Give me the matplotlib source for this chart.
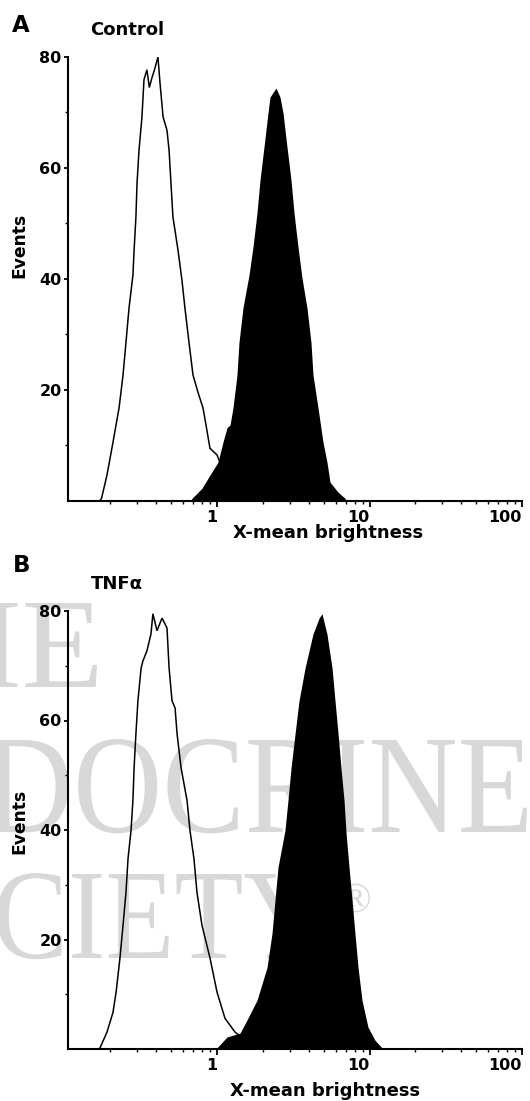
import numpy as np
import matplotlib
matplotlib.use('Agg')
import matplotlib.pyplot as plt
from matplotlib.ticker import FixedLocator, NullFormatter
from matplotlib.textpath import TextPath
from matplotlib.patches import PathPatch
from matplotlib.font_manager import FontProperties
from matplotlib.transforms import Affine2D

# ---------------- data ----------------
ctrl_open_x = [0.170, 0.175, 0.190, 0.208, 0.228, 0.242, 0.253, 0.265, 0.281, 0.286,
               0.294, 0.299, 0.308, 0.322, 0.332, 0.347, 0.360, 0.372, 0.390, 0.410,
               0.423, 0.443, 0.470, 0.485, 0.499, 0.514, 0.555, 0.589, 0.616, 0.655,
               0.696, 0.750, 0.809, 0.847, 0.899, 1.000, 1.130, 1.310, 1.550]
ctrl_open_y = [0.0, 0.5, 4.7, 10.6, 16.8, 22.7, 28.6, 34.8, 40.7, 45.2,
               51.2, 57.3, 63.2, 69.2, 75.9, 77.7, 74.5, 76.0, 77.8, 80.0,
               75.3, 69.2, 66.8, 63.2, 57.3, 51.2, 45.2, 39.8, 34.8, 28.6,
               22.7, 19.6, 16.8, 13.7, 9.5, 8.3, 4.7, 1.0, 0.0]

ctrl_fill_x = [0.670, 0.686, 0.797, 0.900, 1.015, 1.094, 1.163, 1.217, 1.273, 1.352,
               1.394, 1.480, 1.621, 1.722, 1.829, 1.914, 2.033, 2.159, 2.227, 2.437,
               2.588, 2.710, 2.877, 3.057, 3.199, 3.397, 3.608, 3.890, 4.132, 4.262,
               4.594, 4.955, 5.262, 5.508, 6.215, 6.905, 7.050]
ctrl_fill_y = [0.0, 0.5, 2.3, 4.7, 7.0, 10.6, 13.2, 13.7, 16.8, 22.7,
               28.6, 34.8, 40.7, 45.8, 51.9, 57.8, 63.8, 69.9, 72.8, 74.4,
               72.8, 69.9, 63.8, 57.8, 51.9, 45.8, 40.2, 34.8, 28.6, 22.7,
               16.8, 10.6, 7.0, 3.4, 1.6, 0.5, 0.0]

tnf_open_x = [0.168, 0.171, 0.190, 0.208, 0.218, 0.231, 0.242, 0.253, 0.261, 0.273,
              0.281, 0.286, 0.294, 0.303, 0.318, 0.327, 0.347, 0.369, 0.380, 0.404,
              0.436, 0.470, 0.485, 0.507, 0.531, 0.547, 0.581, 0.636, 0.665, 0.706,
              0.739, 0.797, 0.900, 1.000, 1.128, 1.312, 1.526, 1.775, 1.900]
tnf_open_y = [0.0, 0.2, 3.1, 6.7, 10.4, 16.6, 22.6, 28.6, 34.8, 39.9,
              45.4, 51.4, 57.6, 63.6, 69.6, 70.9, 72.7, 75.8, 79.5, 76.4,
              78.7, 76.9, 69.6, 63.6, 62.3, 57.6, 51.4, 45.4, 39.9, 34.8,
              28.6, 22.6, 16.6, 10.4, 5.6, 3.1, 1.6, 0.4, 0.0]

tnf_fill_x = [0.980, 1.000, 1.163, 1.415, 1.573, 1.829, 2.128, 2.294, 2.401, 2.512,
              2.790, 2.920, 3.060, 3.250, 3.450, 3.780, 4.260, 4.670, 4.880, 5.260,
              5.680, 5.940, 6.220, 6.500, 6.810, 7.020, 7.340, 7.680, 8.030, 8.410,
              8.930, 9.770, 10.86, 12.08, 12.30]
tnf_fill_y = [0.0, 0.2, 2.2, 2.9, 5.3, 8.9, 14.9, 21.1, 27.2, 33.2,
              39.9, 45.4, 51.4, 57.6, 63.6, 69.6, 75.8, 78.7, 79.5, 75.8,
              69.6, 63.6, 57.6, 51.4, 45.4, 39.4, 33.2, 27.2, 21.1, 14.9,
              8.9, 4.0, 1.6, 0.2, 0.0]

x_ticks = [1, 10, 100]
x_tick_labels = ['1', '10', '100']
y_ticks = [20, 40, 60, 80]
y_tick_labels = ['20', '40', '60', '80']
panel_letters = ['A', 'B']
panel_titles = ['Control', 'TNFα']
x_label = 'X-mean brightness'
y_label = 'Events'

# ---------------- figure ----------------
W, H = 530, 1101
fig = plt.figure(figsize=(W / 100, H / 100), dpi=100)
plt.rcParams['font.family'] = ['DejaVu Sans']


def fx(px):
    return px / W


def fy(py):
    return 1 - py / H


# watermark (light grey serif letters behind the lower panel)
fp = FontProperties(family='Liberation Serif')


def watermark(s, right, base, cap, sx=1.0, color='#d8d8d8'):
    tp = TextPath((0, 0), s, size=1, prop=fp)
    ext = tp.get_extents()
    k = cap / 0.655
    tr = (Affine2D().scale(k * sx, k)
          .translate(right - ext.x1 * k * sx, H - base)
          .scale(1 / W, 1 / H))
    patch = PathPatch(tr.transform_path(tp), fc=color, ec='none',
                      transform=fig.transFigure, zorder=-5)
    fig.add_artist(patch)


watermark('THE', 97, 687, 84, sx=1.05)
watermark('ENDOCRINE', 527, 832, 92, sx=0.88)
watermark('SOCIETY', 322, 958, 84, sx=0.88)
watermark('®', 370, 912, 28, sx=1.0)

xmin = 10 ** ((68 - 217) / 152.5)

ax1 = fig.add_axes([fx(68), fy(501), fx(522) - fx(68), fy(57) - fy(501)])
ax2 = fig.add_axes([fx(68), fy(1049), fx(522) - fx(68), fy(611) - fy(1049)])

datasets = [(ctrl_open_x, ctrl_open_y, ctrl_fill_x, ctrl_fill_y),
            (tnf_open_x, tnf_open_y, tnf_fill_x, tnf_fill_y)]

for ax, (ox, oy, fxx, fyy) in zip([ax1, ax2], datasets):
    ax.set_facecolor('none')
    ax.plot(ox, oy, color='black', lw=1.1, zorder=2, solid_joinstyle='miter')
    ax.fill_between(fxx, fyy, 0, color='black', lw=0, zorder=3)
    ax.set_xscale('log')
    ax.set_xlim(xmin, 100)
    ax.set_ylim(0, 80)
    for s in ['top', 'right']:
        ax.spines[s].set_visible(False)
    for s in ['left', 'bottom']:
        ax.spines[s].set_linewidth(1.5)
        ax.spines[s].set_zorder(5)
    ax.xaxis.set_major_locator(FixedLocator(x_ticks))
    ax.set_xticklabels(x_tick_labels)
    ax.xaxis.set_minor_locator(FixedLocator(
        [m * d for d in [0.1, 1, 10] for m in range(2, 10)]))
    ax.xaxis.set_minor_formatter(NullFormatter())
    ax.yaxis.set_major_locator(FixedLocator(y_ticks))
    ax.set_yticklabels(y_tick_labels)
    ax.yaxis.set_minor_locator(FixedLocator([10, 30, 50, 70]))
    ax.tick_params(axis='x', which='major', direction='out', length=4, width=1.3,
                   pad=2.5, labelsize=11.5)
    ax.tick_params(axis='x', which='minor', direction='out', length=2, width=1.0)
    ax.tick_params(axis='y', which='major', direction='out', length=3, width=1.3,
                   pad=1.5, labelsize=11.5)
    ax.tick_params(axis='y', which='minor', direction='out', length=2, width=1.0)
    for lab in ax.get_xticklabels():
        lab.set_fontweight('bold')
        lab.set_ha('right')
    for lab in ax.get_yticklabels():
        lab.set_fontweight('bold')

# labels and titles
fig.text(fx(21), fy(25), panel_letters[0], fontsize=16.5, fontweight='bold',
         ha='center', va='center')
fig.text(fx(90), fy(30), panel_titles[0], fontsize=13, fontweight='bold',
         ha='left', va='center')
fig.text(fx(22), fy(565), panel_letters[1], fontsize=16.5, fontweight='bold',
         ha='center', va='center')
fig.text(fx(91), fy(584), panel_titles[1], fontsize=13, fontweight='bold',
         ha='left', va='center')

fig.text(fx(328), fy(533), x_label, fontsize=13, fontweight='bold',
         ha='center', va='center')
fig.text(fx(325), fy(1091), x_label, fontsize=13, fontweight='bold',
         ha='center', va='center')
fig.text(fx(19), fy(245), y_label, fontsize=12.3, fontweight='bold',
         ha='center', va='center', rotation=90)
fig.text(fx(19), fy(821), y_label, fontsize=12.3, fontweight='bold',
         ha='center', va='center', rotation=90)

fig.savefig('out.png', dpi=100, facecolor='white')
